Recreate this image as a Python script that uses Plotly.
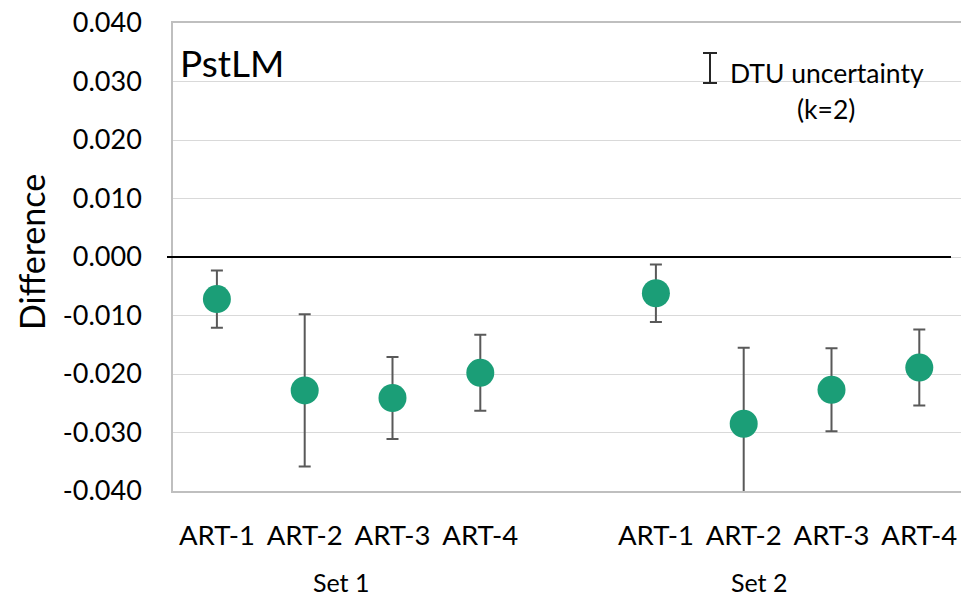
import plotly.graph_objects as go

# ---- data ----
set1_labels = ["ART-1", "ART-2", "ART-3", "ART-4"]
set2_labels = ["ART-1", "ART-2", "ART-3", "ART-4"]
set1_values = [-0.0072, -0.0228, -0.0241, -0.0198]
set1_errors = [0.0049, 0.0130, 0.0070, 0.0065]
set2_values = [-0.0062, -0.0285, -0.0227, -0.0189]
set2_errors = [0.0049, 0.0130, 0.0071, 0.0065]
group_labels = ["Set 1", "Set 2"]
y_ticks = [0.04, 0.03, 0.02, 0.01, 0.0, -0.01, -0.02, -0.03, -0.04]

# positions: set 1 at 0..3, gap, set 2 at 5..8
x1 = list(range(len(set1_labels)))
x2 = [len(set1_labels) + 1 + i for i in range(len(set2_labels))]

FONT = "Lato, 'Open Sans', sans-serif"
GREEN = "#1B9E77"
ERR = "#595959"

fig = go.Figure()
for xs, ys, es in [(x1, set1_values, set1_errors), (x2, set2_values, set2_errors)]:
    fig.add_trace(go.Scatter(
        x=xs, y=ys, mode="markers",
        marker=dict(size=28, color=GREEN, line=dict(width=0)),
        error_y=dict(type="data", array=es, visible=True, color=ERR,
                     thickness=2, width=6),
        showlegend=False, hoverinfo="x+y",
    ))

W, H = 961, 601
L, R, T, B = 173, 0, 23, 110
PW, PH = W - L - R, H - T - B

def xp(px):
    return (px - L) / PW

def yp(py):
    return (H - B - py) / PH

fig.update_layout(
    width=W, height=H,
    margin=dict(l=L, r=R, t=T, b=B),
    paper_bgcolor="white", plot_bgcolor="white",
    font=dict(family=FONT, color="black"),
    xaxis=dict(
        range=[-0.5, -0.5 + PW / 87.8],
        tickvals=x1 + x2, ticktext=set1_labels + set2_labels,
        tickfont=dict(size=27.5, family=FONT, color="black"),
        showgrid=False, zeroline=False,
        showline=True, linecolor="#bfbfbf", linewidth=1.5, mirror=True,
        ticks="", ticklabelstandoff=19,
    ),
    yaxis=dict(
        range=[-0.04, 0.04],
        tickvals=y_ticks, ticktext=[f"{v:.3f}" for v in y_ticks],
        tickfont=dict(size=27, family=FONT, color="black"),
        showgrid=True, gridcolor="#d9d9d9", gridwidth=1,
        zeroline=False,
        showline=True, linecolor="#bfbfbf", linewidth=1.5,
        ticks="", ticklabelstandoff=24,
    ),
    shapes=[
        dict(type="line", xref="paper", yref="y", x0=xp(167), x1=xp(951),
             y0=0, y1=0, line=dict(color="black", width=1.8)),
        dict(type="line", xref="paper", yref="paper", x0=xp(710), x1=xp(710),
             y0=yp(53), y1=yp(83), line=dict(color="#262626", width=2)),
        dict(type="line", xref="paper", yref="paper", x0=xp(703), x1=xp(717),
             y0=yp(53), y1=yp(53), line=dict(color="#262626", width=2)),
        dict(type="line", xref="paper", yref="paper", x0=xp(703), x1=xp(717),
             y0=yp(83), y1=yp(83), line=dict(color="#262626", width=2)),
    ],
    annotations=[
        dict(text="PstLM", xref="paper", yref="paper", x=xp(178), y=yp(62),
             xanchor="left", yanchor="middle", showarrow=False,
             font=dict(size=37, family=FONT, color="black")),
        dict(text="DTU uncertainty", xref="paper", yref="paper", x=xp(827), y=yp(73),
             xanchor="center", yanchor="middle", showarrow=False,
             font=dict(size=26.5, family=FONT, color="black")),
        dict(text="(k=2)", xref="paper", yref="paper", x=xp(826), y=yp(109),
             xanchor="center", yanchor="middle", showarrow=False,
             font=dict(size=26.5, family=FONT, color="black")),
        dict(text=group_labels[0], xref="paper", yref="paper", x=xp(341), y=yp(582),
             xanchor="center", yanchor="middle", showarrow=False,
             font=dict(size=25, family=FONT, color="black")),
        dict(text=group_labels[1], xref="paper", yref="paper", x=xp(759), y=yp(599),
             xanchor="center", yanchor="bottom", showarrow=False,
             font=dict(size=25, family=FONT, color="black")),
        dict(text="Difference", xref="paper", yref="paper", x=xp(31), y=yp(252),
             xanchor="center", yanchor="middle", textangle=-90, showarrow=False,
             font=dict(size=34, family=FONT, color="black")),
    ],
)

fig.write_html(
    "out.html",
    config={"displayModeBar": False},
    post_script="document.body.style.margin='0';document.body.style.overflow='hidden';",
)
